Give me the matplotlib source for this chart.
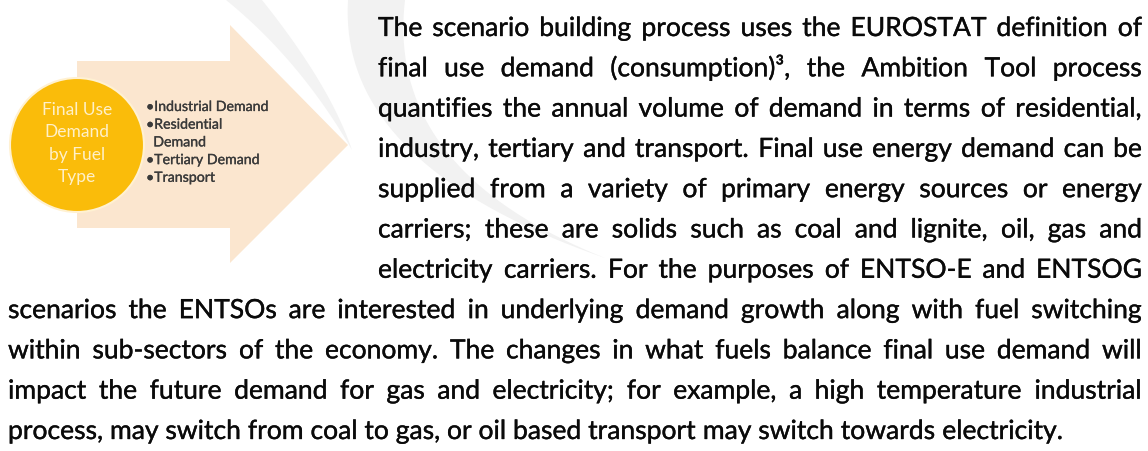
import matplotlib
matplotlib.use('Agg')
import matplotlib.pyplot as plt
import matplotlib.patheffects as pe
from matplotlib.patches import Polygon, Circle
import numpy as np

plt.rcParams['font.family'] = ['Lato', 'DejaVu Sans']

# diagram texts
circle_label = ['Final Use', 'Demand', 'by Fuel', 'Type']
bullet_items = ['•Industrial Demand', '•Residential', '  Demand', '•Tertiary Demand', '•Transport']

# paragraph, wrapped as in the page: first lines sit beside the diagram
short_lines = [
    'The scenario building process uses the EUROSTAT definition of',
    'final use demand (consumption)\u00b3, the Ambition Tool process',
    'quantifies the annual volume of demand in terms of residential,',
    'industry, tertiary and transport. Final use energy demand can be',
    'supplied from a variety of primary energy sources or energy',
    'carriers; these are solids such as coal and lignite, oil, gas and',
    'electricity carriers. For the purposes of ENTSO-E and ENTSOG',
]
full_lines = [
    'scenarios the ENTSOs are interested in underlying demand growth along with fuel switching',
    'within sub-sectors of the economy. The changes in what fuels balance final use demand will',
    'impact the future demand for gas and electricity; for example, a high temperature industrial',
    'process, may switch from coal to gas, or oil based transport may switch towards electricity.',
]

W, H = 1148, 451
fig = plt.figure(figsize=(W / 100, H / 100), dpi=100)
ax = fig.add_axes([0, 0, 1, 1])
ax.set_xlim(0, W)
ax.set_ylim(H, 0)
ax.axis('off')
renderer = fig.canvas.get_renderer()


def bez(p0, p1, p2, n=40):
    t = np.linspace(0, 1, n)[:, None]
    return (1 - t) ** 2 * np.array(p0) + 2 * (1 - t) * t * np.array(p1) + t ** 2 * np.array(p2)


# faint watermark swooshes behind everything
band = np.vstack([bez((405, 0), (385, 170), (605, 258)), bez((605, 258), (338, 165), (348, 0))])
ax.add_patch(Polygon(band, closed=True, fc='#f2f2f2', ec='none', zorder=0))
thin = np.vstack([bez((262, 0), (330, 85), (352, 150)), bez((352, 150), (300, 60), (226, 0))])
ax.add_patch(Polygon(thin, closed=True, fc='#f3f3f3', ec='none', zorder=0))

# arrow and circle
arrow = [(77, 61), (230, 61), (230, 25), (348, 145), (230, 263), (230, 228), (77, 228)]
ax.add_patch(Polygon(arrow, closed=True, fc='#fbe6cf', ec='none', zorder=1))
ax.add_patch(Circle((77, 145), 67, fc='#fabc0a', ec='#fff1d2', lw=1.5, zorder=2))

for i, s in enumerate(circle_label):
    ax.text(77, 110 + 22.4 * i, s, ha='center', va='center', fontsize=12.5,
            color='#fff0c8', zorder=3)
for i, s in enumerate(bullet_items):
    ax.text(146, 107 + 17.7 * i, s, ha='left', va='center', fontsize=10.2,
            color='#3a3a3a', zorder=3,
            path_effects=[pe.withStroke(linewidth=0.2, foreground='#3a3a3a')])


def width(s, fs):
    t = ax.text(0, 0, s, fontsize=fs)
    w = t.get_window_extent(renderer).width
    t.remove()
    return w


# pick the size so the unjustified last line spans like in the page
fs = 12 * 1049 / width(full_lines[-1], 12)
space = width('a a', fs) - width('aa', fs)
bold_a_bit = [pe.withStroke(linewidth=0.25, foreground='#0a0a0a')]


def put_line(line, y, x0, x1, justify=True):
    words = line.split(' ')
    ws = [width(w, fs) for w in words]
    gap = (x1 - x0 - sum(ws)) / (len(words) - 1) if justify else space
    x = x0
    for w, wd in zip(words, ws):
        ax.text(x, y, w, ha='left', va='baseline', fontsize=fs, color='#0a0a0a',
                zorder=4, path_effects=bold_a_bit)
        x += wd + gap


all_lines = short_lines + full_lines
for i, line in enumerate(all_lines):
    y = 36 + 40.3 * i
    x0 = 378 if i < len(short_lines) else 8
    put_line(line, y, x0, 1142, justify=(i < len(all_lines) - 1))

fig.savefig('out.png', dpi=100)
